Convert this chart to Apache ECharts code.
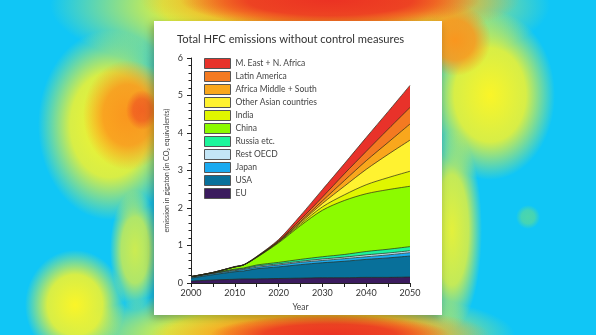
<!DOCTYPE html>
<html><head><meta charset="utf-8">
<script src="https://cdn.jsdelivr.net/npm/echarts@6/dist/echarts.min.js"></script>
<style>html,body{margin:0;padding:0;background:#10c6f6}#c{width:596px;height:335px}</style>
</head><body><div id="c"></div>
<script>
const years = [2000, 2005, 2010, 2012, 2015, 2020, 2025, 2030, 2035, 2040, 2045, 2050];
const EU        = [0.05, 0.08, 0.10, 0.11, 0.11, 0.12, 0.13, 0.14, 0.14, 0.15, 0.15, 0.16];
const USA       = [0.08, 0.14, 0.20, 0.21, 0.27, 0.31, 0.36, 0.40, 0.44, 0.48, 0.52, 0.56];
const Japan     = [0.02, 0.03, 0.03, 0.04, 0.04, 0.05, 0.06, 0.06, 0.07, 0.07, 0.08, 0.09];
const RestOECD  = [0.01, 0.01, 0.02, 0.02, 0.03, 0.03, 0.03, 0.04, 0.04, 0.05, 0.05, 0.05];
const Russia    = [0.01, 0.01, 0.02, 0.02, 0.03, 0.04, 0.05, 0.06, 0.07, 0.09, 0.10, 0.11];
const China     = [0.00, 0.01, 0.06, 0.08, 0.20, 0.52, 0.90, 1.24, 1.44, 1.54, 1.59, 1.61];
const India     = [0.00, 0.00, 0.00, 0.00, 0.005, 0.02, 0.04, 0.09, 0.15, 0.24, 0.32, 0.40];
const OtherAsia = [0.00, 0.00, 0.00, 0.00, 0.005, 0.01, 0.04, 0.09, 0.23, 0.41, 0.62, 0.83];
const AfricaMS  = [0.00, 0.00, 0.00, 0.00, 0.005, 0.01, 0.03, 0.07, 0.15, 0.23, 0.32, 0.43];
const LatAm     = [0.00, 0.00, 0.00, 0.00, 0.005, 0.02, 0.05, 0.10, 0.18, 0.25, 0.35, 0.44];
const MEast     = [0.00, 0.00, 0.01, 0.01, 0.01, 0.03, 0.11, 0.20, 0.27, 0.37, 0.47, 0.59];

const seriesNames = ['EU','USA','Japan','Rest OECD','Russia etc.','China','India','Other Asian countries','Africa Middle + South','Latin America','M. East + N. Africa'];
const seriesValues = [EU, USA, Japan, RestOECD, Russia, China, India, OtherAsia, AfricaMS, LatAm, MEast];
const seriesColors = ['#3b1b5e','#08709a','#1aaaf0','#c3e5f6','#1df59b','#8cfb00','#e0f600','#fff230','#f9a71c','#f47a21','#e8322a'];

const FONT = 'Lato, "Open Sans", sans-serif';

function blob(cx, cy, rx, ry, rgb, a) {
  return {
    type: 'circle', silent: true, x: cx, y: cy, scaleX: rx, scaleY: ry,
    shape: { cx: 0, cy: 0, r: 1 },
    style: { fill: { type: 'radial', x: 0.5, y: 0.5, r: 0.5, colorStops: [
      { offset: 0, color: 'rgba(' + rgb + ',' + a + ')' },
      { offset: 0.55, color: 'rgba(' + rgb + ',' + (a * 0.85) + ')' },
      { offset: 1, color: 'rgba(' + rgb + ',0)' } ] } }
  };
}
const Y = '250,245,40', O = '250,150,30', R = '235,50,35', G = '150,235,80';
const bg = [
  blob(300, 5, 250, 75, Y, 1),
  blob(110, 125, 72, 95, Y, 1),
  blob(490, 95, 65, 85, Y, 1),
  blob(290, 335, 225, 48, Y, 1),
  blob(75, 305, 50, 55, Y, 1),
  blob(135, 250, 25, 60, Y, 0.8),
  blob(452, 230, 30, 100, Y, 0.9),
  blob(528, 217, 12, 12, G, 0.45),
  blob(330, 0, 190, 40, O, 1),
  blob(128, 115, 45, 55, O, 1),
  blob(455, 40, 36, 36, O, 1),
  blob(320, 335, 170, 30, O, 1),
  blob(330, 0, 150, 28, R, 1),
  blob(142, 110, 16, 20, R, 0.55),
  blob(330, 335, 120, 20, R, 1),
  { type: 'rect', silent: true, shape: { x: 154, y: 21, width: 288, height: 294 },
    style: { fill: '#ffffff', shadowBlur: 8, shadowColor: 'rgba(60,40,0,0.35)', shadowOffsetX: -2, shadowOffsetY: 3 } }
];

// cumulative tops of each layer (EU at bottom); drawn top layer first so lower layers paint over it
const n = seriesNames.length;
const cumulative = [];
for (let i = 0; i < n; i++) {
  cumulative.push(years.map((y, j) => +(seriesValues[i][j] + (i ? cumulative[i - 1][j] : 0)).toFixed(4)));
}
const series = [];
for (let i = n - 1; i >= 0; i--) {
  series.push({
    name: seriesNames[i], type: 'line', symbol: 'none', smooth: 0.3,
    data: years.map((y, j) => [y, cumulative[i][j]]),
    lineStyle: { color: '#2a2a18', width: 0.7 },
    itemStyle: { color: seriesColors[i] },
    areaStyle: { color: seriesColors[i], opacity: 1, origin: 'start' }
  });
}

const chart = echarts.init(document.getElementById('c'), null, { renderer: 'canvas' });
chart.setOption({
  animation: false,
  backgroundColor: '#10c6f6',
  graphic: { elements: bg },
  title: { text: 'Total HFC emissions without control measures', left: 177, top: 34, padding: 0,
    textStyle: { fontFamily: FONT, fontWeight: 'normal', fontSize: 11.2, color: '#333' } },
  legend: {
    data: seriesNames.slice().reverse(), orient: 'vertical', left: 204, top: 58, padding: 0,
    itemWidth: 26, itemHeight: 10, itemGap: 2, icon: 'rect',
    itemStyle: { borderColor: '#555', borderWidth: 1 },
    textStyle: { fontFamily: FONT, fontSize: 8.5, color: '#444' }
  },
  grid: { left: 191, right: 186, top: 58, bottom: 52 },
  xAxis: {
    type: 'value', min: 2000, max: 2050, interval: 10,
    name: 'Year', nameLocation: 'middle', nameGap: 11,
    nameTextStyle: { fontFamily: FONT, fontSize: 8.5, color: '#444' },
    axisLine: { lineStyle: { color: '#222', width: 1 } },
    axisTick: { length: 4, lineStyle: { color: '#222' } },
    minorTick: { show: true, splitNumber: 2, length: 4, lineStyle: { color: '#222' } },
    axisLabel: { fontFamily: FONT, fontSize: 9, color: '#333', margin: 6, formatter: v => String(v) },
    splitLine: { show: false }
  },
  yAxis: {
    type: 'value', min: 0, max: 6, interval: 1,
    name: 'emission in gigaton (in CO\u2082 equivalents)', nameLocation: 'middle', nameGap: 21,
    nameTextStyle: { fontFamily: FONT, fontSize: 7.2, color: '#444' },
    axisLine: { show: true, lineStyle: { color: '#222', width: 1 } },
    axisTick: { show: true, length: 4, lineStyle: { color: '#222' } },
    minorTick: { show: true, splitNumber: 5, length: 2.5, lineStyle: { color: '#222' } },
    axisLabel: { fontFamily: FONT, fontSize: 9, color: '#333', margin: 8 },
    splitLine: { show: false }
  },
  series: series
});
</script></body></html>
